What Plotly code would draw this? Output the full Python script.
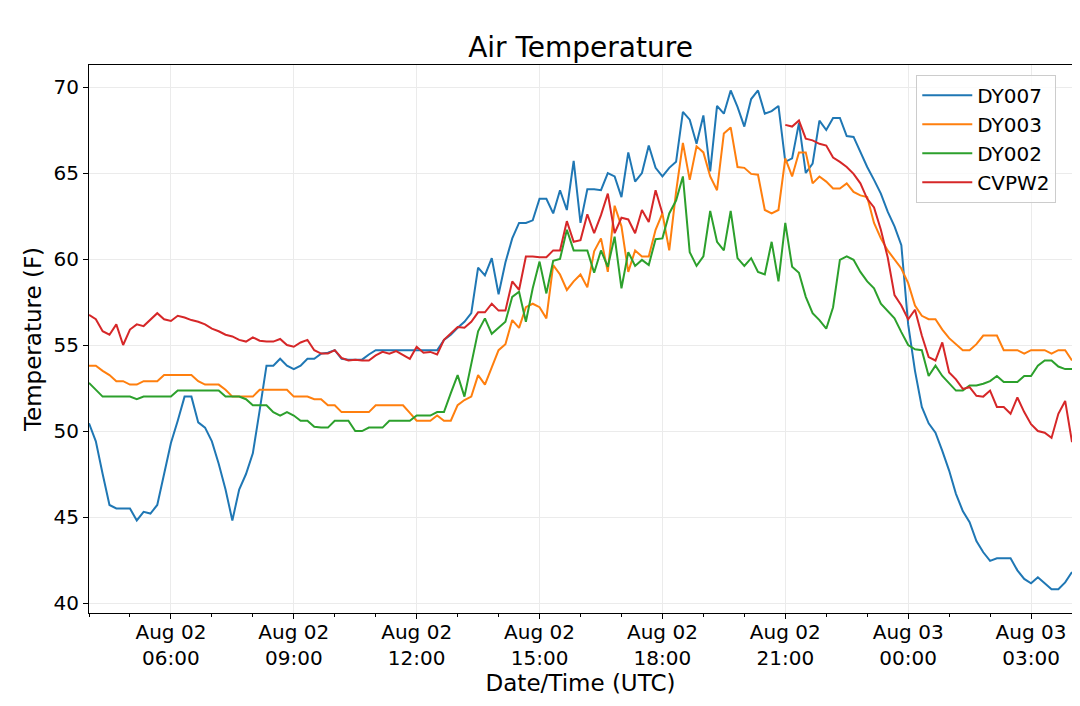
import pandas as pd
import plotly.graph_objects as go

# 10-minute readings, Aug 02 04:00 UTC to Aug 03 04:00 UTC
times = pd.date_range("2019-08-02 04:00", periods=145, freq="10min")

dy007 = [50.45, 49.4, 47.5, 45.7, 45.5, 45.5, 45.5, 44.8, 45.3, 45.2,
         45.7, 47.5, 49.3, 50.6, 52.0, 52.0, 50.5, 50.2, 49.4, 48.1,
         46.6, 44.8, 46.6, 47.5, 48.7, 51.2, 53.8, 53.8, 54.2, 53.8,
         53.6, 53.8, 54.2, 54.2, 54.5, 54.55, 54.7, 54.2, 54.15, 54.15,
         54.15, 54.45, 54.7, 54.7, 54.7, 54.7, 54.7, 54.7, 54.7, 54.7,
         54.7, 54.7, 55.3, 55.6, 56.0, 56.35, 56.85, 59.5, 59.05, 60.05,
         57.95, 59.8, 61.2, 62.1, 62.1, 62.25, 63.5, 63.5, 62.65, 64.0,
         62.85, 65.7, 62.1, 64.05, 64.05, 64.0, 65.0, 64.8, 63.6, 66.2,
         64.5, 65.0, 66.6, 65.3, 64.8, 65.3, 65.65, 68.55, 68.1, 66.7,
         68.35, 65.1, 68.9, 68.45, 69.8, 68.85, 67.7, 69.3, 69.8, 68.45,
         68.6, 68.9, 65.65, 65.85, 67.9, 65.0, 65.55, 68.05, 67.5, 68.2,
         68.2, 67.15, 67.1, 66.2, 65.35, 64.6, 63.8, 62.75, 61.9, 60.8,
         56.2, 53.5, 51.4, 50.45, 49.9, 48.85, 47.7, 46.35, 45.35, 44.7,
         43.6, 42.95, 42.45, 42.6, 42.6, 42.6, 41.9, 41.4, 41.15, 41.5,
         41.15, 40.8, 40.8, 41.2, 41.8]

dy003 = [53.8, 53.8, 53.5, 53.25, 52.9, 52.9, 52.7, 52.7, 52.9, 52.9,
         52.9, 53.25, 53.25, 53.25, 53.25, 53.25, 52.9, 52.7, 52.7, 52.7,
         52.4, 52.0, 52.0, 52.0, 52.0, 52.4, 52.4, 52.4, 52.4, 52.4,
         52.0, 52.0, 52.0, 51.85, 51.85, 51.5, 51.5, 51.1, 51.1, 51.1,
         51.1, 51.1, 51.5, 51.5, 51.5, 51.5, 51.5, 51.05, 50.6, 50.6,
         50.6, 50.9, 50.6, 50.6, 51.5, 51.8, 52.0, 53.25, 52.7, 53.7,
         54.7, 55.05, 56.45, 56.0, 57.2, 57.4, 57.2, 56.55, 59.65, 59.1,
         58.2, 58.7, 59.1, 58.35, 60.45, 61.2, 59.25, 63.1, 61.9, 59.25,
         60.5, 60.15, 60.15, 61.7, 62.65, 60.5, 63.9, 66.75, 64.6, 66.55,
         66.2, 64.8, 64.0, 67.3, 67.65, 65.35, 65.3, 64.95, 64.9, 62.85,
         62.65, 62.85, 65.85, 64.8, 66.2, 66.2, 64.4, 64.8, 64.5, 64.1,
         64.1, 64.4, 63.9, 63.7, 63.6, 62.1, 61.2, 60.5, 59.95, 59.45,
         58.6, 57.3, 56.7, 56.5, 56.5, 55.9, 55.4, 55.05, 54.7, 54.7,
         55.05, 55.55, 55.55, 55.55, 54.7, 54.7, 54.7, 54.5, 54.7, 54.7,
         54.7, 54.5, 54.7, 54.7, 54.1]

dy002 = [52.8, 52.4, 52.0, 52.0, 52.0, 52.0, 52.0, 51.85, 52.0, 52.0,
         52.0, 52.0, 52.0, 52.35, 52.35, 52.35, 52.35, 52.35, 52.35, 52.35,
         52.0, 52.0, 52.0, 51.85, 51.5, 51.5, 51.5, 51.1, 50.9, 51.1,
         50.9, 50.6, 50.6, 50.25, 50.2, 50.2, 50.6, 50.6, 50.6, 50.0,
         50.0, 50.2, 50.2, 50.2, 50.6, 50.6, 50.6, 50.6, 50.9, 50.9,
         50.9, 51.1, 51.1, 52.2, 53.25, 52.0, 53.9, 55.8, 56.55, 55.65,
         56.0, 56.35, 57.8, 58.1, 56.35, 58.3, 59.85, 58.0, 59.9, 60.0,
         61.7, 60.5, 60.5, 60.5, 59.2, 60.5, 59.55, 61.3, 58.3, 60.4,
         59.6, 59.95, 59.65, 61.15, 61.2, 62.65, 63.4, 64.8, 60.4, 59.6,
         60.15, 62.8, 61.0, 60.5, 62.8, 60.05, 59.6, 60.05, 59.25, 59.1,
         61.0, 58.7, 62.1, 59.55, 59.2, 57.8, 56.85, 56.45, 55.95, 57.2,
         59.95, 60.15, 59.95, 59.25, 58.7, 58.3, 57.4, 56.95, 56.55, 55.75,
         55.0, 54.75, 54.7, 53.2, 53.8, 53.2, 52.75, 52.35, 52.35, 52.65,
         52.65, 52.75, 52.9, 53.2, 52.85, 52.85, 52.85, 53.2, 53.2, 53.8,
         54.1, 54.1, 53.75, 53.6, 53.6]

# CVPW2 has no readings between about 18:10 and 20:50
cvpw2 = [56.75, 56.5, 55.8, 55.6, 56.2, 55.0, 55.9, 56.2, 56.1, 56.45,
         56.85, 56.5, 56.4, 56.7, 56.6, 56.45, 56.35, 56.2, 55.95, 55.8,
         55.6, 55.5, 55.3, 55.2, 55.45, 55.25, 55.2, 55.2, 55.35, 55.0,
         54.9, 55.15, 55.3, 54.7, 54.5, 54.5, 54.7, 54.25, 54.1, 54.15,
         54.1, 54.1, 54.4, 54.6, 54.5, 54.65, 54.4, 54.2, 54.9, 54.55,
         54.6, 54.45, 55.3, 55.7, 56.05, 56.0, 56.35, 56.9, 56.9, 57.4,
         57.0, 57.0, 58.7, 58.2, 60.15, 60.15, 60.1, 60.1, 60.5, 60.5,
         62.2, 61.0, 61.1, 62.6, 61.5, 62.55, 63.8, 61.5, 62.4, 62.3,
         61.5, 62.85, 62.15, 64.0, 62.65] + [None] * 17 + [
         67.8, 67.7, 68.05, 67.0, 66.9, 66.7, 66.6, 65.9,
         65.65, 65.35, 64.95, 64.4, 63.5, 63.0, 61.7, 60.1, 57.9, 57.3,
         56.5, 57.05, 55.55, 54.3, 54.1, 55.15, 53.4, 53.0, 52.45, 52.55,
         52.05, 52.0, 52.35, 51.4, 51.4, 51.0, 51.95, 51.1, 50.4, 50.0,
         49.9, 49.6, 51.0, 51.75, 49.35]

station_names = ["DY007", "DY003", "DY002", "CVPW2"]
station_colors = ["#1f77b4", "#ff7f0e", "#2ca02c", "#d62728"]

tick_times = ["2019-08-02 06:00", "2019-08-02 09:00", "2019-08-02 12:00",
              "2019-08-02 15:00", "2019-08-02 18:00", "2019-08-02 21:00",
              "2019-08-03 00:00", "2019-08-03 03:00"]
tick_labels = ["Aug 02<br>06:00", "Aug 02<br>09:00", "Aug 02<br>12:00",
               "Aug 02<br>15:00", "Aug 02<br>18:00", "Aug 02<br>21:00",
               "Aug 03<br>00:00", "Aug 03<br>03:00"]
y_ticks = [40, 45, 50, 55, 60, 65, 70]

fig = go.Figure()
for name, color, vals in zip(station_names, station_colors, [dy007, dy003, dy002, cvpw2]):
    fig.add_trace(go.Scatter(x=times, y=vals, mode='lines', name=name,
                             line=dict(color=color, width=2), connectgaps=False))

font_family = "DejaVu Sans"

# page body keeps an 8px margin, so the figure is 8px smaller than the window
fig.update_layout(
    width=1072, height=698,
    paper_bgcolor='white',
    plot_bgcolor='white',
    font=dict(family=font_family, size=20, color='black'),
    margin=dict(l=81, r=8, t=57, b=93),
    title=dict(text="Air Temperature", x=(81 + 983 / 2) / 1072, xanchor='center',
               y=1 - 39 / 698, yanchor='middle',
               font=dict(family=font_family, size=28, color='black')),
    legend=dict(x=0.984, y=0.982, xanchor='right', yanchor='top',
                bgcolor='rgba(255,255,255,0.8)', bordercolor='#cccccc', borderwidth=1,
                font=dict(size=20), itemwidth=50),
    showlegend=True,
)

fig.update_xaxes(
    type='date',
    range=["2019-08-02 04:00", "2019-08-03 04:00"],
    tickmode='array', tickvals=tick_times, ticktext=tick_labels,
    ticks='outside', ticklen=5, tickcolor='black', ticklabelstandoff=-4,
    showgrid=True, gridcolor='#ebebeb', gridwidth=1,
    showline=True, linecolor='black', linewidth=1, mirror=True,
    zeroline=False,
    minor=dict(dtick=3600000, tick0="2019-08-02 04:00", ticks='outside',
               ticklen=3, tickcolor='black', showgrid=False),
    title=dict(text="Date/Time (UTC)", font=dict(size=23), standoff=1),
)

fig.update_yaxes(
    range=[39.42, 71.28],
    tickmode='array', tickvals=y_ticks,
    ticks='outside', ticklen=5, tickcolor='black',
    showgrid=True, gridcolor='#ebebeb', gridwidth=1,
    showline=True, linecolor='black', linewidth=1, mirror=True,
    zeroline=False,
    title=dict(text="Temperature (F)", font=dict(size=23), standoff=5),
)

fig.write_html("out.html")
